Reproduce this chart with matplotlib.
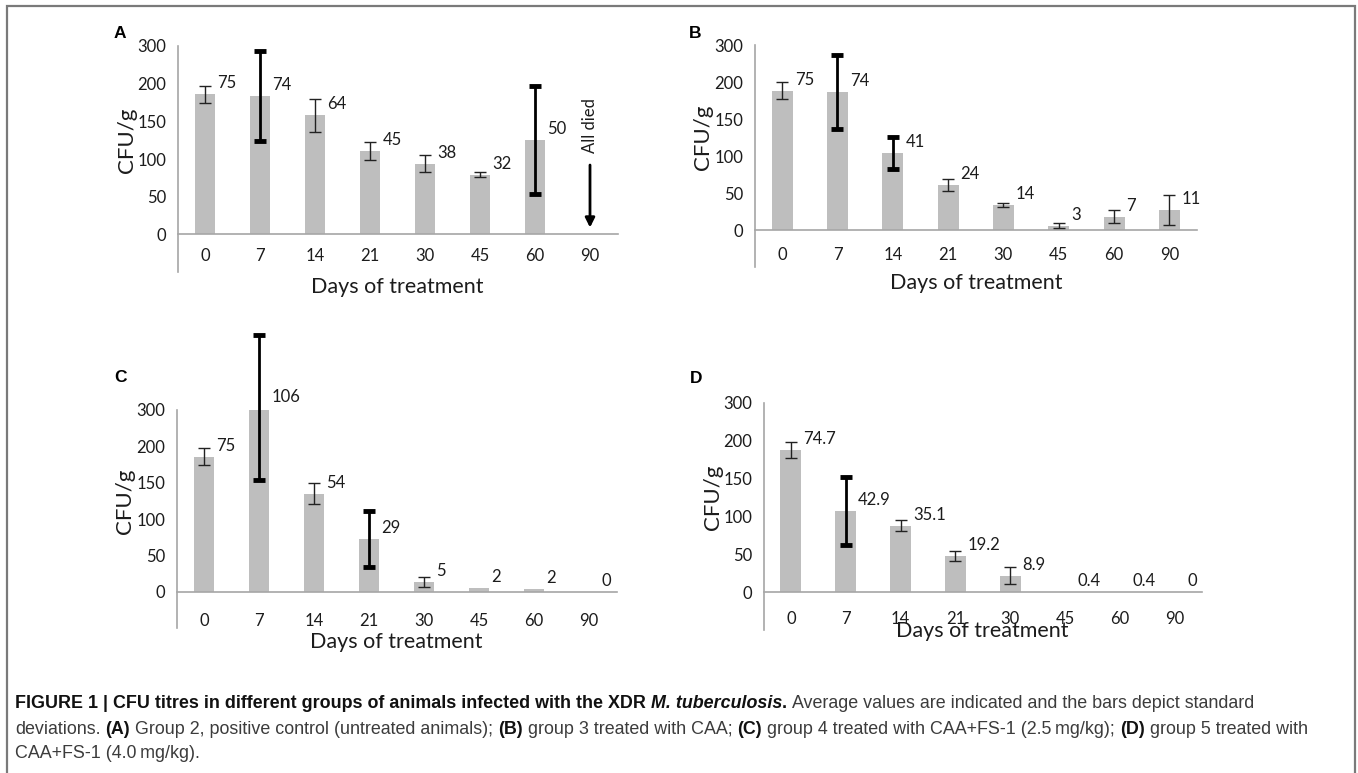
import numpy as np
import matplotlib
matplotlib.use("Agg")
import matplotlib.pyplot as plt
from matplotlib.patches import Rectangle
from matplotlib.transforms import blended_transform_factory, offset_copy

# ---- data (bar heights read against the drawn axis, tick "300" sits at 250) ----
days = ['0', '7', '14', '21', '30', '45', '60', '90']
ytick_pos = [0, 50, 100, 150, 200, 250]
ytick_lab = ['0', '50', '100', '150', '200', '300']

a_height = [186, 184, 158, 111, 94, 79, 125, 0]
a_err = [11.5, 60, 22, 12, 11, 3.5, 72, 0]
a_label = ['75', '74', '64', '45', '38', '32', '50', '']
a_thick = [1, 6]

b_height = [188, 187, 104, 61, 34, 6, 18, 27]
b_err = [11.5, 50, 22, 8.5, 3, 3.5, 8.5, 20]
b_label = ['75', '74', '41', '24', '14', '3', '7', '11']
b_thick = [1, 2]

c_height = [186, 253, 135, 73, 13, 4.5, 3.5, 0]
c_err = [11.5, 100, 15, 38.5, 6.5, 0, 0, 0]
c_label = ['75', '106', '54', '29', '5', '2', '2', '0']
c_thick = [1, 3]

d_height = [188, 107, 88, 48, 22, 0.8, 0.5, 0]
d_err = [11, 45, 7, 7, 11.5, 0, 0, 0]
d_label = ['74.7', '42.9', '35.1', '19.2', '8.9', '0.4', '0.4', '0']
d_thick = [1]

W, H = 1358, 773
fig = plt.figure(figsize=(W / 100, H / 100), dpi=100)
plt.rcParams['font.family'] = ['Lato', 'DejaVu Sans']

BAR = '#bebebe'
SPINE = '#a6a6a6'
TXT = '#1c1c1c'

# axes boxes in pixels: left, right, top, bottom
boxes = [(177.5, 617.5, 46, 272), (754.5, 1197, 45, 267),
         (176.5, 616.5, 410, 628), (763.5, 1202, 403, 630)]
xlab_off = [-15, -16, -14, -1]
xtick_pad = [10, 12.5, 15, 13.5]
letters = [('A', 120, 34), ('B', 695, 34), ('C', 120, 377), ('D', 696, 378)]
panels = [(a_height, a_err, a_label, a_thick), (b_height, b_err, b_label, b_thick),
          (c_height, c_err, c_label, c_thick), (d_height, d_err, d_label, d_thick)]

x = np.arange(len(days))
bw = 0.38
for k, ((l, r, t, b), (hh, ee, lab, thick)) in enumerate(zip(boxes, panels)):
    ax = fig.add_axes([l / W, (H - b) / H, (r - l) / W, (b - t) / H])
    ax.bar(x, hh, width=bw, color=BAR, zorder=2)
    for i in range(len(days)):
        if ee[i] <= 0:
            continue
        if i in thick:
            ax.errorbar(x[i], hh[i], yerr=ee[i], fmt='none', ecolor='black',
                        elinewidth=2, capsize=4, capthick=3.5, zorder=3, clip_on=False)
        else:
            ax.errorbar(x[i], hh[i], yerr=ee[i], fmt='none', ecolor='#222222',
                        elinewidth=1, capsize=4, capthick=1, zorder=3, clip_on=False)
    for i, s in enumerate(lab):
        if s:
            ax.annotate(s, xy=(x[i] + bw / 2, hh[i]), xytext=(2, 11),
                        textcoords='offset pixels', ha='left', va='center',
                        fontsize=12, color=TXT, annotation_clip=False)
    ax.set_xlim(-0.5, len(days) - 0.5)
    ax.set_ylim(-50, 250)
    ax.spines['bottom'].set_position(('data', 0))
    for s in ['top', 'right']:
        ax.spines[s].set_visible(False)
    for s in ['left', 'bottom']:
        ax.spines[s].set_color(SPINE)
        ax.spines[s].set_linewidth(1.2)
    ax.set_xticks(x)
    ax.set_xticklabels(days)
    ax.set_yticks(ytick_pos)
    ax.set_yticklabels(ytick_lab)
    ax.tick_params(length=0, labelsize=12, labelcolor=TXT)
    ax.tick_params(axis='x', pad=xtick_pad[k])
    ax.tick_params(axis='y', pad=8)
    ax.set_facecolor('none')

    tr = blended_transform_factory(ax.transAxes, ax.transData)
    ax.text(0, 125, 'CFU/g', transform=offset_copy(tr, fig=fig, x=-51, y=0, units='dots'),
            rotation=90, ha='center', va='center', fontsize=16, color=TXT)
    ax.text(0.5, 0, 'Days of treatment',
            transform=offset_copy(ax.transAxes, fig=fig, x=0, y=xlab_off[k], units='dots'),
            ha='center', va='center', fontsize=15.5, color=TXT)

    if k == 0:
        ax.annotate('', xy=(7, 9), xytext=(7, 92),
                    arrowprops=dict(arrowstyle='-|>', lw=2, color='black',
                                    mutation_scale=14, shrinkA=0, shrinkB=0))
        ax.text(7, 144, 'All died', rotation=90, ha='center', va='center',
                fontsize=12, color=TXT)

for s, px, py in letters:
    fig.text(px / W, 1 - py / H, s, ha='center', va='center', fontsize=12.5,
             fontweight='bold', family='Liberation Sans', color='black')

# frame around the figure
fig.patches.append(Rectangle((7 / W, -0.02), (1355 - 7) / W, (H - 6) / H + 0.02,
                             transform=fig.transFigure, fill=False,
                             edgecolor='#7a7a7a', linewidth=1.6))

# caption with mixed weights
cap_lines = [
    [("FIGURE 1 | CFU titres in different groups of animals infected with the XDR ", 'bold', 'normal'),
     ("M. tuberculosis", 'bold', 'italic'), (".", 'bold', 'normal'),
     (" Average values are indicated and the bars depict standard", 'normal', 'normal')],
    [("deviations. ", 'normal', 'normal'), ("(A)", 'bold', 'normal'),
     (" Group 2, positive control (untreated animals); ", 'normal', 'normal'),
     ("(B)", 'bold', 'normal'), (" group 3 treated with CAA; ", 'normal', 'normal'),
     ("(C)", 'bold', 'normal'), (" group 4 treated with CAA+FS-1 (2.5\u2009mg/kg); ", 'normal', 'normal'),
     ("(D)", 'bold', 'normal'), (" group 5 treated with", 'normal', 'normal')],
    [("CAA+FS-1 (4.0\u2009mg/kg).", 'normal', 'normal')],
]
cap_y = [703, 729, 754]
cap_size = 12.9
renderer = fig.canvas.get_renderer()


def text_w(s, weight, style):
    t = fig.text(0, 0, s, fontsize=cap_size, family='Liberation Sans',
                 fontweight=weight, fontstyle=style)
    w = t.get_window_extent(renderer).width
    t.remove()
    return w


for segs, py in zip(cap_lines, cap_y):
    cx = 15.0
    for s, weight, style in segs:
        sp = text_w('a a', weight, style) - text_w('aa', weight, style)
        core = s.strip(' ')
        lead = len(s) - len(s.lstrip(' '))
        trail = len(s) - len(s.rstrip(' '))
        cx += lead * sp
        col = '#111111' if weight == 'bold' else '#3c3c3c'
        t = fig.text(cx / W, 1 - py / H, core, fontsize=cap_size, family='Liberation Sans',
                     fontweight=weight, fontstyle=style, color=col, ha='left', va='center')
        cx += t.get_window_extent(renderer).width + trail * sp

fig.savefig('out.png', dpi=100, facecolor='white')
